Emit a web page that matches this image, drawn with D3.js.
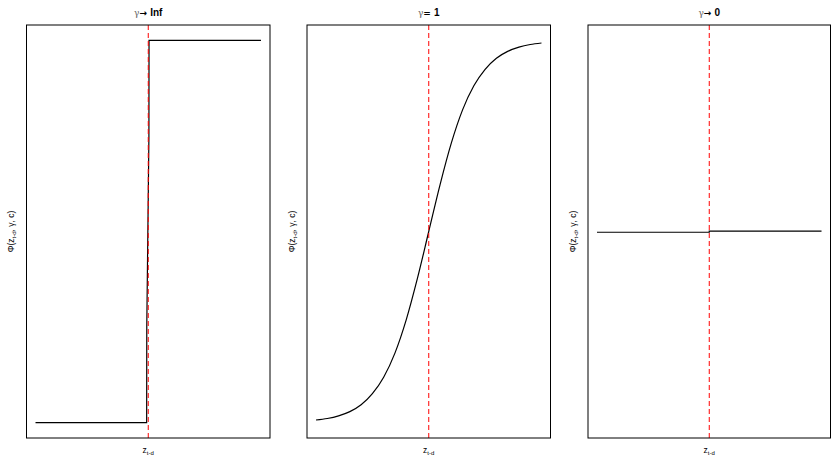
<!DOCTYPE html>
<html>
<head>
<meta charset="utf-8">
<script src="https://cdn.jsdelivr.net/npm/d3@7"></script>
<style>
  html, body { margin: 0; padding: 0; background: #fff; }
  svg { display: block; }
  text { font-family: "Liberation Sans", Arial, sans-serif; fill: #000; }
</style>
</head>
<body>
<svg id="chart" width="831" height="456"></svg>
<script>
// Transition function Φ(z_{t-d}, γ, c) for three smoothness values, threshold c = 0
const panelOps = ["→", "=", "→"];
const panelValues = ["Inf", "1", "0"];
const threshold = 0;

// γ → Inf : practically a step at the threshold
const zStep = [-5, -0.07, -0.065, 0.03, 0.035, 5];
const gStep = [0, 0, 0.25, 0.75, 1, 1];

// γ = 1 : smooth logistic curve
const zSmooth = [-5, -4.5, -4, -3.5, -3, -2.5, -2, -1.5, -1, -0.5, 0, 0.5, 1, 1.5, 2, 2.5, 3, 3.5, 4, 4.5, 5];
const gSmooth = [0.007, 0.011, 0.018, 0.029, 0.047, 0.076, 0.119, 0.182, 0.269, 0.378, 0.5,
                 0.622, 0.731, 0.818, 0.881, 0.924, 0.953, 0.971, 0.982, 0.989, 0.993];

// γ → 0 : flat at one half
const zFlat = [-5, 0, 0, 5];
const gFlat = [0.498, 0.498, 0.501, 0.501];

const seriesList = [
  { z: zStep, g: gStep, curve: d3.curveLinear },
  { z: zSmooth, g: gSmooth, curve: d3.curveMonotoneX },
  { z: zFlat, g: gFlat, curve: d3.curveLinear }
];

const svg = d3.select("#chart");
const panels = [
  { left: 26.5, right: 270 },
  { left: 307, right: 550.5 },
  { left: 588, right: 830.5 }
];
const plotTop = 25, plotBottom = 438;

panels.forEach((p, i) => {
  const s = seriesList[i];
  const pts = s.z.map((z, k) => ({ z, g: s.g[k] }));
  // 4% padding on both axes
  const x = d3.scaleLinear().domain([-5 - 0.4, 5 + 0.4]).range([p.left, p.right]);
  const y = d3.scaleLinear().domain([-0.04, 1.04]).range([plotBottom, plotTop]);

  const g = svg.append("g");

  // curve
  g.append("path")
    .datum(pts)
    .attr("fill", "none")
    .attr("stroke", "#000")
    .attr("stroke-width", 1.2)
    .attr("d", d3.line().curve(s.curve).x(d => x(d.z)).y(d => y(d.g)));

  // threshold marker
  g.append("line")
    .attr("x1", x(threshold)).attr("x2", x(threshold))
    .attr("y1", plotTop).attr("y2", plotBottom)
    .attr("stroke", "#ff0000")
    .attr("stroke-width", 1)
    .attr("stroke-dasharray", "5,3");

  // frame
  g.append("rect")
    .attr("x", p.left).attr("y", plotTop)
    .attr("width", p.right - p.left).attr("height", plotBottom - plotTop)
    .attr("fill", "none")
    .attr("stroke", "#000")
    .attr("stroke-width", 1);

  const cx = (p.left + p.right) / 2;

  // title: γ <op> value
  const t = g.append("text")
    .attr("x", cx).attr("y", 15.5)
    .attr("text-anchor", "middle")
    .attr("font-size", 10);
  t.append("tspan").attr("fill", "#666").attr("font-family", "DejaVu Serif, serif").attr("font-size", 9).text("γ");
  t.append("tspan").attr("font-family", "DejaVu Sans, sans-serif").attr("font-weight", "bold").attr("font-size", 9).text(panelOps[i] + " ");
  t.append("tspan").attr("font-weight", "bold").text(panelValues[i]);

  // x label: z_{t-d}
  const xl = g.append("text")
    .attr("x", cx).attr("y", 453)
    .attr("text-anchor", "middle")
    .attr("font-size", 8.5);
  xl.append("tspan").text("z");
  xl.append("tspan").attr("font-size", 6).attr("dy", 2).text("t-d");

  // y label: Φ(z_{t-d}, γ, c)
  const yl = g.append("text")
    .attr("transform", `translate(${p.left - 12.5},${(plotTop + plotBottom) / 2}) rotate(-90)`)
    .attr("text-anchor", "middle")
    .attr("font-size", 8.5);
  yl.append("tspan").text("Φ(z");
  yl.append("tspan").attr("font-size", 6).attr("dy", 2).text("t-d");
  yl.append("tspan").attr("dy", -2).text(", γ, c)");
});
</script>
</body>
</html>
